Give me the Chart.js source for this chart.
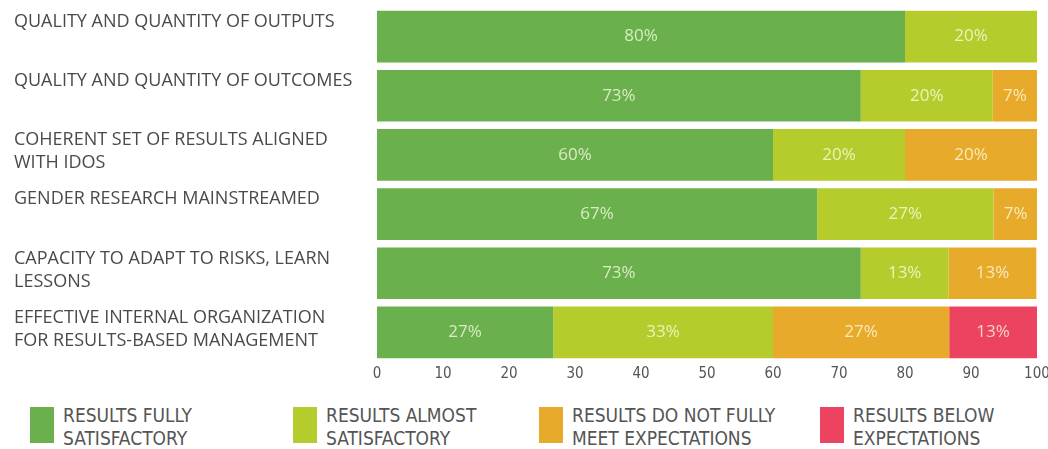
<!DOCTYPE html>
<html>
<head>
<meta charset="utf-8">
<script src="https://cdn.jsdelivr.net/npm/chart.js@4.4.0/dist/chart.umd.min.js"></script>
<style>
  html, body { margin: 0; padding: 0; background: #fff; overflow: hidden; width: 1048px; height: 449px; }
  #wrap { position: absolute; left: 0; top: 0; width: 1060px; height: 386px; }
  .legend { position: absolute; top: 404px; font-family: "Liberation Sans Narrow", "DejaVu Sans Condensed", sans-serif; font-size: 19px; color: #555; line-height: 23px; }
  .legend .box { position: absolute; left: 0; top: 3px; width: 24px; height: 36px; }
  .legend .txt { position: absolute; left: 33px; top: 0; white-space: nowrap; }
</style>
</head>
<body>
<div id="wrap"><canvas id="chart"></canvas></div>
<div id="legend"></div>
<script>
const categories = [
  ["QUALITY AND QUANTITY OF OUTPUTS"],
  ["QUALITY AND QUANTITY OF OUTCOMES"],
  ["COHERENT SET OF RESULTS ALIGNED", "WITH IDOS"],
  ["GENDER RESEARCH MAINSTREAMED"],
  ["CAPACITY TO ADAPT TO RISKS, LEARN", "LESSONS"],
  ["EFFECTIVE INTERNAL ORGANIZATION", "FOR RESULTS-BASED MANAGEMENT"]
];
const fullySatisfactory = [80, 73.3, 60, 66.7, 73.3, 26.7];
const almostSatisfactory = [20, 20, 20, 26.7, 13.3, 33.3];
const notFullyMeet = [0, 6.7, 20, 6.7, 13.3, 26.7];
const belowExpectations = [0, 0, 0, 0, 0, 13.3];
const seriesNames = [
  ["RESULTS FULLY", "SATISFACTORY"],
  ["RESULTS ALMOST", "SATISFACTORY"],
  ["RESULTS DO NOT FULLY", "MEET EXPECTATIONS"],
  ["RESULTS BELOW", "EXPECTATIONS"]
];
const colors = ["#6ab04c", "#b6cc2c", "#e8aa2a", "#ec4460"];
const xTicks = [0, 10, 20, 30, 40, 50, 60, 70, 80, 90, 100];

// legend (multi-line text, so built in html)
const legendX = [30, 293, 539, 820];
const legendEl = document.getElementById("legend");
seriesNames.forEach((name, i) => {
  const item = document.createElement("div");
  item.className = "legend";
  item.style.left = legendX[i] + "px";
  item.innerHTML = `<div class="box" style="background:${colors[i]}"></div><div class="txt">${name.join("<br>")}</div>`;
  legendEl.appendChild(item);
});

// category labels drawn at the top of each bar, left aligned
const rowLabels = {
  id: "rowLabels",
  afterDraw(chart) {
    const ctx = chart.ctx;
    const meta = chart.getDatasetMeta(0);
    ctx.save();
    ctx.font = '18px "Open Sans", sans-serif';
    ctx.fillStyle = "#4a4a4a";
    ctx.textAlign = "left";
    ctx.textBaseline = "middle";
    categories.forEach((lines, i) => {
      const bar = meta.data[i];
      const top = bar.y - bar.height / 2;
      lines.forEach((line, j) => ctx.fillText(line, 14, top + 11 + j * 23));
    });
    ctx.restore();
  }
};

// percentage labels in the middle of each segment
const valueLabels = {
  id: "valueLabels",
  afterDatasetsDraw(chart) {
    const ctx = chart.ctx;
    ctx.save();
    ctx.font = '17px "Open Sans", sans-serif';
    ctx.textAlign = "center";
    ctx.textBaseline = "middle";
    ctx.fillStyle = "rgba(255,255,235,0.75)";
    chart.data.datasets.forEach((ds, di) => {
      chart.getDatasetMeta(di).data.forEach((bar, i) => {
        const v = ds.data[i];
        if (!v) return;
        const p = bar.getCenterPoint();
        ctx.fillText(Math.round(v) + "%", p.x, p.y);
      });
    });
    ctx.restore();
  }
};

new Chart(document.getElementById("chart"), {
  type: "bar",
  data: {
    labels: categories,
    datasets: [
      { label: seriesNames[0].join(" "), data: fullySatisfactory, backgroundColor: colors[0] },
      { label: seriesNames[1].join(" "), data: almostSatisfactory, backgroundColor: colors[1] },
      { label: seriesNames[2].join(" "), data: notFullyMeet, backgroundColor: colors[2] },
      { label: seriesNames[3].join(" "), data: belowExpectations, backgroundColor: colors[3] }
    ]
  },
  options: {
    indexAxis: "y",
    responsive: true,
    maintainAspectRatio: false,
    animation: false,
    layout: { padding: { left: 369, right: 23, top: 7, bottom: 0 } },
    datasets: { bar: { barPercentage: 0.873, categoryPercentage: 1 } },
    scales: {
      x: {
        stacked: true,
        min: 0,
        max: 100,
        afterBuildTicks: (axis) => { axis.ticks = xTicks.map(v => ({ value: v })); },
        grid: { display: false, drawTicks: false },
        border: { display: false },
        ticks: {
          padding: 3,
          color: "#555",
          font: { family: '"Liberation Sans Narrow", "DejaVu Sans Condensed", sans-serif', size: 15 },
          maxRotation: 0
        }
      },
      y: {
        stacked: true,
        grid: { display: false },
        border: { display: false },
        ticks: { display: false }
      }
    },
    plugins: {
      legend: { display: false },
      tooltip: { enabled: false }
    }
  },
  plugins: [rowLabels, valueLabels]
});
</script>
</body>
</html>
